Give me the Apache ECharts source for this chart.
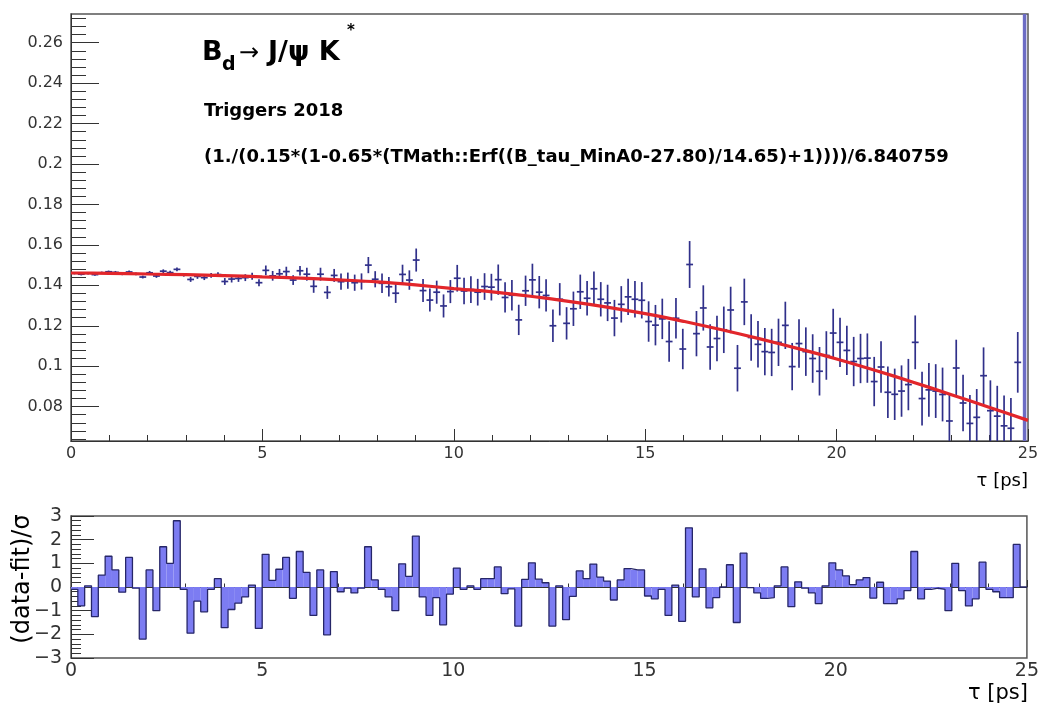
<!DOCTYPE html>
<html><head><meta charset="utf-8">
<script src="https://cdn.jsdelivr.net/npm/echarts@6/dist/echarts.min.js"></script>
<style>html,body{margin:0;padding:0;background:#fff}#c{width:1042px;height:704px}</style>
</head><body><div id="c"></div>
<script>
// ---- data ----
const X_MIN = 0, X_MAX = 25, BIN_COUNT = 140;
const BIN_WIDTH = (X_MAX - X_MIN) / BIN_COUNT;
const Y_MIN = 0.063, Y_MAX = 0.2742;
const R_MIN = -3, R_MAX = 3;

const dataValues = [
0.1460,0.1455,0.1460,0.1453,0.1462,0.1467,0.1464,0.1457,0.1466,0.1457,
0.1441,0.1462,0.1446,0.1470,0.1463,0.1479,0.1452,0.1429,0.1444,0.1438,
0.1449,0.1453,0.1419,0.1431,0.1434,0.1438,0.1445,0.1413,0.1474,0.1447,
0.1457,0.1468,0.1426,0.1472,0.1455,0.1395,0.1455,0.1365,0.1449,0.1418,
0.1423,0.1413,0.1419,0.1500,0.1430,0.1410,0.1393,0.1361,0.1454,0.1426,
0.1525,0.1374,0.1327,0.1366,0.1298,0.1369,0.1435,0.1372,0.1379,0.1366,
0.1394,0.1391,0.1428,0.1340,0.1351,0.1229,0.1373,0.1427,0.1366,0.1350,
0.1200,0.1331,0.1212,0.1284,0.1368,0.1336,0.1383,0.1331,0.1313,0.1238,
0.1306,0.1343,0.1331,0.1326,0.1221,0.1203,0.1234,0.1122,0.1237,0.1085,
0.1503,0.1161,0.1288,0.1095,0.1137,0.1180,0.1278,0.0990,0.1318,0.1142,
0.1108,0.1072,0.1068,0.1118,0.1202,0.0998,0.1112,0.1072,0.1038,0.0975,
0.1053,0.1164,0.1118,0.1078,0.1023,0.1038,0.1040,0.0924,0.0996,0.0871,
0.0861,0.0877,0.0909,0.1118,0.0840,0.0883,0.0877,0.0860,0.0729,0.0991,
0.0818,0.0717,0.0747,0.0953,0.0780,0.0753,0.0705,0.0693,0.1019,0.1700
];
const dataErrors = [
0.0006,0.0006,0.0006,0.0006,0.0006,0.0006,
0.0007,0.0007,0.0007,0.0007,0.0007,
0.0009,0.0009,0.0009,0.0009,0.0009,0.0009,
0.0012,0.0012,0.0012,0.0012,0.0012,
0.0017,0.0017,0.0017,0.0017,0.0017,0.0017,
0.0024,0.0024,0.0024,0.0024,0.0024,0.0024,
0.0032,0.0032,0.0032,0.0032,0.0032,
0.0040,0.0040,0.0040,0.0040,0.0040,0.0040,
0.0048,0.0048,0.0048,0.0048,0.0048,
0.0057,0.0057,0.0057,0.0057,0.0057,0.0057,
0.0066,0.0066,0.0066,0.0066,0.0066,0.0066,
0.0075,0.0075,0.0075,0.0075,0.0075,
0.0080,0.0080,0.0080,0.0080,0.0080,0.0080,
0.0085,0.0085,0.0085,0.0085,0.0085,
0.0090,0.0090,0.0090,0.0090,0.0090,0.0090,
0.0100,0.0100,0.0100,0.0100,0.0100,0.0100,
0.0116,0.0112,0.0112,0.0112,0.0112,
0.0115,0.0115,0.0115,0.0115,0.0115,0.0115,
0.0117,0.0117,0.0117,0.0117,0.0117,
0.0120,0.0120,0.0120,0.0120,0.0120,0.0120,
0.0122,0.0122,0.0122,0.0122,0.0122,0.0122,
0.0127,0.0127,0.0127,0.0127,0.0127,
0.0133,0.0133,0.0133,0.0133,0.0133,0.0133,
0.0140,0.0140,0.0140,0.0140,0.0140,
0.0150,0.0150,0.0150,0.0150,0.0150,
0.3000
];
const residuals = [
-0.1,-0.8,0.05,-1.25,0.5,1.3,0.72,-0.22,1.25,-0.05,
-2.2,0.72,-1.0,1.7,1.0,2.8,-0.1,-1.95,-0.6,-1.05,
-0.1,0.35,-1.72,-0.95,-0.68,-0.42,0.08,-1.75,1.38,0.28,
0.75,1.25,-0.48,1.5,0.62,-1.2,0.72,-2.02,0.65,-0.2,
-0.05,-0.25,-0.05,1.7,0.3,-0.1,-0.42,-1.0,0.98,0.45,
2.15,-0.42,-1.2,-0.45,-1.6,-0.3,0.8,-0.1,0.05,-0.1,
0.35,0.35,0.85,-0.28,-0.08,-1.65,0.32,1.02,0.33,0.18,
-1.65,0.05,-1.38,-0.4,0.68,0.35,0.97,0.42,0.25,-0.55,
0.3,0.78,0.72,0.72,-0.38,-0.5,-0.1,-1.2,0.08,-1.45,
2.5,-0.42,0.77,-0.88,-0.45,0.0,0.94,-1.5,1.43,-0.03,
-0.25,-0.48,-0.45,0.05,0.85,-0.83,0.22,-0.05,-0.25,-0.7,
0.05,1.02,0.72,0.47,0.1,0.3,0.4,-0.47,0.2,-0.7,
-0.7,-0.5,-0.15,1.5,-0.5,-0.1,-0.05,-0.1,-1.0,1.0,
-0.15,-0.8,-0.5,1.05,-0.1,-0.2,-0.45,-0.45,1.8,0.0
];
const fitX = [0,1,2,3,4,5,6,7,8,9,10,11,12,13,14,15,16,17,18,19,20,21,22,23,24,25];
const fitY = [0.1461,0.1459,0.1456,0.1453,0.1448,0.1442,0.1436,0.1427,0.1417,0.1402,0.1384,0.1368,0.1346,0.1321,0.1292,0.1260,0.1222,0.1180,0.1135,0.1087,0.1036,0.0980,0.0921,0.0859,0.0796,0.0732];

const yMajorTicks = [0.08,0.10,0.12,0.14,0.16,0.18,0.20,0.22,0.24,0.26];
const yMinorTicks = [0.064,0.068,0.072,0.076,0.084,0.088,0.092,0.096,0.104,0.108,0.112,0.116,0.124,0.128,0.132,0.136,0.144,0.148,0.152,0.156,0.164,0.168,0.172,0.176,0.184,0.188,0.192,0.196,0.204,0.208,0.212,0.216,0.224,0.228,0.232,0.236,0.244,0.248,0.252,0.256,0.264,0.268,0.272];

// ---- build series data ----
const points = dataValues.map((v, i) => [X_MIN + (i + 0.5) * BIN_WIDTH, v, dataErrors[i]]);
const fitData = fitX.map((x, i) => [x, fitY[i]]);
const resBins = residuals.map((r, i) => [X_MIN + i * BIN_WIDTH, X_MIN + (i + 1) * BIN_WIDTH, r]);
const resStep = residuals.map((r, i) => [X_MIN + i * BIN_WIDTH, r]);
resStep.push([X_MAX, residuals[residuals.length - 1]]);

const AX = '#333';
const FONT = 'DejaVu Sans';
const lbl = (size, margin) => ({ fontFamily: FONT, fontSize: size, color: AX, margin: margin });

const chart = echarts.init(document.getElementById('c'), null, { renderer: 'canvas' });
chart.setOption({
  animation: false,
  backgroundColor: '#fff',
  grid: [
    { left: 71, right: 14, top: 14, bottom: 263, show: true, borderColor: '#555', borderWidth: 1.5, backgroundColor: 'transparent' },
    { left: 71, right: 14, top: 516, bottom: 46, show: true, borderColor: '#555', borderWidth: 1.5, backgroundColor: 'transparent' }
  ],
  xAxis: [
    { gridIndex: 0, type: 'value', min: X_MIN, max: X_MAX, interval: 5,
      axisLine: { lineStyle: { color: AX, width: 1 } },
      axisTick: { inside: true, length: 12, lineStyle: { color: AX } },
      minorTick: { show: true, splitNumber: 5, length: 6, lineStyle: { color: AX } },
      axisLabel: lbl(16, 5), splitLine: { show: false } },
    { gridIndex: 1, type: 'value', min: X_MIN, max: X_MAX, interval: 5,
      axisLine: { lineStyle: { color: AX, width: 1 } },
      axisTick: { inside: true, length: 7, lineStyle: { color: AX } },
      minorTick: { show: true, splitNumber: 5, length: 3.5, lineStyle: { color: AX } },
      axisLabel: lbl(19, 4), splitLine: { show: false } }
  ],
  yAxis: [
    { gridIndex: 0, type: 'value', min: Y_MIN, max: Y_MAX, position: 'left',
      axisLine: { show: true, lineStyle: { color: AX, width: 1 } },
      axisTick: { show: true, inside: true, length: 28, customValues: yMajorTicks, lineStyle: { color: AX } },
      axisLabel: Object.assign(lbl(16, 8), { customValues: yMajorTicks, formatter: v => String(+(+v).toFixed(3)) }),
      splitLine: { show: false } },
    { gridIndex: 0, type: 'value', min: Y_MIN, max: Y_MAX, position: 'left',
      axisLine: { show: false },
      axisTick: { show: true, inside: true, length: 15, customValues: yMinorTicks, lineStyle: { color: AX } },
      axisLabel: { show: false }, splitLine: { show: false } },
    { gridIndex: 1, type: 'value', min: R_MIN, max: R_MAX, interval: 1, position: 'left',
      axisLine: { show: true, lineStyle: { color: AX, width: 1 } },
      axisTick: { inside: true, length: 23, lineStyle: { color: AX } },
      minorTick: { show: true, splitNumber: 5, length: 10, lineStyle: { color: AX } },
      axisLabel: Object.assign(lbl(19, 9), { formatter: v => (v < 0 ? '\u2212' + Math.abs(v) : String(v)) }),
      splitLine: { show: false } }
  ],
  series: [
    { type: 'custom', name: 'data', xAxisIndex: 0, yAxisIndex: 0, clip: true, z: 3,
      data: points,
      renderItem: function (params, api) {
        const x = api.value(0), y = api.value(1), e = api.value(2);
        const t = api.coord([x, y + e]), b = api.coord([x, y - e]);
        const l = api.coord([x - BIN_WIDTH / 2, y]), r = api.coord([x + BIN_WIDTH / 2, y]);
        const big = e > 0.1;
        const c = big ? '#6c6cc4' : '#30308a';
        const children = [
          { type: 'line', shape: { x1: t[0], y1: t[1], x2: b[0], y2: b[1] }, style: { stroke: c, lineWidth: big ? 3.5 : 1.7 } }
        ];
        if (!big) children.push({ type: 'line', shape: { x1: l[0], y1: l[1], x2: r[0], y2: r[1] }, style: { stroke: c, lineWidth: 1.7 } });
        return { type: 'group', children: children };
      } },
    { type: 'line', name: 'fit', xAxisIndex: 0, yAxisIndex: 0, data: fitData, smooth: 0.3,
      symbol: 'none', z: 4, lineStyle: { color: '#e2262b', width: 3.2 } },
    { type: 'custom', name: 'residual', xAxisIndex: 1, yAxisIndex: 2, clip: true, z: 2,
      data: resBins,
      renderItem: function (params, api) {
        const p0 = api.coord([api.value(0), 0]), p1 = api.coord([api.value(1), api.value(2)]);
        return { type: 'rect', shape: { x: p0[0], y: Math.min(p0[1], p1[1]), width: p1[0] - p0[0], height: Math.abs(p1[1] - p0[1]) },
          style: { fill: '#7c7cf2' } };
      } },
    { type: 'line', name: 'residualOutline', xAxisIndex: 1, yAxisIndex: 2, data: resStep, step: 'end',
      symbol: 'none', z: 3, lineStyle: { color: '#262668', width: 1.3 } }
  ],
  graphic: [
    { type: 'text', x: 202, y: 53, style: { text: 'B', font: 'bold 27px "DejaVu Sans"', fill: '#000', verticalAlign: 'middle' } },
    { type: 'text', x: 222, y: 65, style: { text: 'd', font: 'bold 19px "DejaVu Sans"', fill: '#000', verticalAlign: 'middle' } },
    { type: 'text', x: 239, y: 54, style: { text: '\u2192', font: '24px "DejaVu Sans"', fill: '#000', verticalAlign: 'middle' } },
    { type: 'text', x: 268, y: 53, style: { text: 'J/\u03c8 K', font: 'bold 27px "DejaVu Sans"', fill: '#000', verticalAlign: 'middle' } },
    { type: 'text', x: 347, y: 31, style: { text: '*', font: 'bold 15px "DejaVu Sans"', fill: '#000', verticalAlign: 'middle' } },
    { type: 'text', x: 204, y: 111, style: { text: 'Triggers 2018', font: 'bold 18px "DejaVu Sans"', fill: '#000', verticalAlign: 'middle' } },
    { type: 'text', x: 204, y: 157, style: { text: '(1./(0.15*(1-0.65*(TMath::Erf((B_tau_MinA0-27.80)/14.65)+1))))/6.840759', font: 'bold 18px "DejaVu Sans"', fill: '#000', verticalAlign: 'middle' } },
    { type: 'text', x: 1028, y: 481, style: { text: '\u03c4 [ps]', font: '18px "DejaVu Sans"', fill: '#000', align: 'right', verticalAlign: 'middle' } },
    { type: 'text', x: 1028, y: 694, style: { text: '\u03c4 [ps]', font: '21px "DejaVu Sans"', fill: '#000', align: 'right', verticalAlign: 'middle' } },
    { type: 'text', x: 23, y: 579, rotation: Math.PI / 2, style: { text: '(data-fit)/\u03c3', font: '24px "DejaVu Sans"', fill: '#000', align: 'center', verticalAlign: 'middle' } }
  ]
});
</script>
</body></html>
